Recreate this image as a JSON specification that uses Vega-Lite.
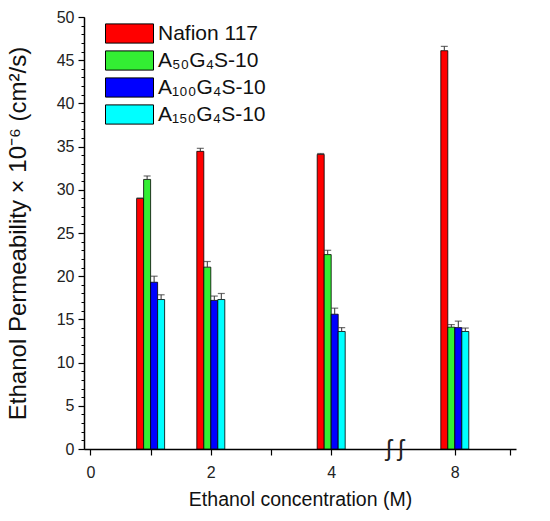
{
  "$schema": "https://vega.github.io/schema/vega-lite/v6.json",
  "width": 432,
  "height": 432,
  "autosize": "none",
  "padding": {"left": 84, "top": 17, "right": 34, "bottom": 72},
  "config": {
    "view": {"stroke": null},
    "font": "Liberation Sans",
    "axis": {
      "grid": false,
      "domainColor": "black",
      "domainWidth": 1.5,
      "tickColor": "black",
      "tickWidth": 1.2,
      "labelColor": "#222",
      "titleColor": "#111",
      "labelFont": "Liberation Sans",
      "titleFont": "Liberation Sans",
      "titleFontWeight": "normal"
    }
  },
  "data": {
    "values": [
      {"conc": 1, "membrane": "Nafion 117", "value": 29.0, "upper": 29.05},
      {"conc": 1, "membrane": "A₅₀G₄S-10", "value": 31.2, "upper": 31.6},
      {"conc": 1, "membrane": "A₁₀₀G₄S-10", "value": 19.3, "upper": 20.0},
      {"conc": 1, "membrane": "A₁₅₀G₄S-10", "value": 17.3, "upper": 17.85},
      {"conc": 2, "membrane": "Nafion 117", "value": 34.45, "upper": 34.8},
      {"conc": 2, "membrane": "A₅₀G₄S-10", "value": 21.05, "upper": 21.7},
      {"conc": 2, "membrane": "A₁₀₀G₄S-10", "value": 17.2, "upper": 17.7},
      {"conc": 2, "membrane": "A₁₅₀G₄S-10", "value": 17.3, "upper": 18.0},
      {"conc": 4, "membrane": "Nafion 117", "value": 34.1, "upper": 34.2},
      {"conc": 4, "membrane": "A₅₀G₄S-10", "value": 22.5, "upper": 23.0},
      {"conc": 4, "membrane": "A₁₀₀G₄S-10", "value": 15.6, "upper": 16.3},
      {"conc": 4, "membrane": "A₁₅₀G₄S-10", "value": 13.6, "upper": 14.05},
      {"conc": 8, "membrane": "Nafion 117", "value": 46.1, "upper": 46.6},
      {"conc": 8, "membrane": "A₅₀G₄S-10", "value": 14.1, "upper": 14.4},
      {"conc": 8, "membrane": "A₁₀₀G₄S-10", "value": 14.05, "upper": 14.8},
      {"conc": 8, "membrane": "A₁₅₀G₄S-10", "value": 13.6, "upper": 14.0}
    ]
  },
  "encoding": {
    "x": {
      "field": "conc",
      "type": "quantitative",
      "title": "Ethanol concentration (M)",
      "scale": {"domain": [0, 4, 8, 9], "range": [0, 247.2, 370.8, 432], "nice": false, "zero": false},
      "axis": {
        "values": [0, 1, 2, 3, 4, 8, 9],
        "labelExpr": "datum.value == 1 || datum.value == 3 || datum.value == 9 ? '' : datum.label",
        "tickSize": 6,
        "labelFontSize": 16,
        "labelPadding": 9,
        "titleFontSize": 19.5,
        "titlePadding": 10
      }
    }
  },
  "layer": [
    {
      "transform": [{"filter": "datum.membrane == 'Nafion 117'"}],
      "mark": {"type": "bar", "width": 7, "xOffset": -10.5, "stroke": "black", "strokeWidth": 0.8},
      "encoding": {
        "y": {
          "field": "value",
          "type": "quantitative",
          "title": "Ethanol Permeability × 10⁻⁶ (cm²/s)",
          "scale": {"domain": [0, 50], "nice": false},
          "axis": {
            "values": [0, 5, 10, 15, 20, 25, 30, 35, 40, 45, 50],
            "tickSize": 6,
            "labelFontSize": 16,
            "labelPadding": 4,
            "titleFontSize": 24,
            "titlePadding": 26
          }
        },
        "color": {
          "field": "membrane",
          "type": "nominal",
          "scale": {
            "domain": ["Nafion 117", "A₅₀G₄S-10", "A₁₀₀G₄S-10", "A₁₅₀G₄S-10"],
            "range": ["#ff0000", "#33ee33", "#0000ff", "#00ffff"]
          },
          "legend": {
            "orient": "none",
            "legendX": 35,
            "legendY": 6,
            "title": null,
            "labelFontSize": 21,
            "labelColor": "#111",
            "labelOffset": 18,
            "symbolType": "M-3,-1.2H3V1.2H-3Z",
            "symbolSize": 256,
            "symbolStrokeColor": "black",
            "symbolStrokeWidth": 1,
            "rowPadding": 2
          }
        }
      }
    },
    {
      "transform": [{"filter": "datum.membrane == 'A₅₀G₄S-10'"}],
      "mark": {"type": "bar", "width": 7, "xOffset": -3.5, "stroke": "black", "strokeWidth": 0.8},
      "encoding": {
        "y": {"field": "value", "type": "quantitative", "axis": null},
        "color": {"field": "membrane", "type": "nominal"}
      }
    },
    {
      "transform": [{"filter": "datum.membrane == 'A₁₀₀G₄S-10'"}],
      "mark": {"type": "bar", "width": 7, "xOffset": 3.5, "stroke": "black", "strokeWidth": 0.8},
      "encoding": {
        "y": {"field": "value", "type": "quantitative", "axis": null},
        "color": {"field": "membrane", "type": "nominal"}
      }
    },
    {
      "transform": [{"filter": "datum.membrane == 'A₁₅₀G₄S-10'"}],
      "mark": {"type": "bar", "width": 7, "xOffset": 10.5, "stroke": "black", "strokeWidth": 0.8},
      "encoding": {
        "y": {"field": "value", "type": "quantitative", "axis": null},
        "color": {"field": "membrane", "type": "nominal"}
      }
    },
    {
      "transform": [{"filter": "datum.membrane == 'Nafion 117'"}],
      "mark": {"type": "rule", "xOffset": -10.5, "color": "#333", "strokeWidth": 1},
      "encoding": {"y": {"field": "value", "type": "quantitative", "axis": null}, "y2": {"field": "upper"}}
    },
    {
      "transform": [{"filter": "datum.membrane == 'A₅₀G₄S-10'"}],
      "mark": {"type": "rule", "xOffset": -3.5, "color": "#333", "strokeWidth": 1},
      "encoding": {"y": {"field": "value", "type": "quantitative", "axis": null}, "y2": {"field": "upper"}}
    },
    {
      "transform": [{"filter": "datum.membrane == 'A₁₀₀G₄S-10'"}],
      "mark": {"type": "rule", "xOffset": 3.5, "color": "#333", "strokeWidth": 1},
      "encoding": {"y": {"field": "value", "type": "quantitative", "axis": null}, "y2": {"field": "upper"}}
    },
    {
      "transform": [{"filter": "datum.membrane == 'A₁₅₀G₄S-10'"}],
      "mark": {"type": "rule", "xOffset": 10.5, "color": "#333", "strokeWidth": 1},
      "encoding": {"y": {"field": "value", "type": "quantitative", "axis": null}, "y2": {"field": "upper"}}
    },
    {
      "transform": [{"filter": "datum.membrane == 'Nafion 117'"}],
      "mark": {"type": "tick", "orient": "horizontal", "xOffset": -10.5, "size": 7, "thickness": 1.2, "color": "#333"},
      "encoding": {"y": {"field": "upper", "type": "quantitative", "axis": null}}
    },
    {
      "transform": [{"filter": "datum.membrane == 'A₅₀G₄S-10'"}],
      "mark": {"type": "tick", "orient": "horizontal", "xOffset": -3.5, "size": 7, "thickness": 1.2, "color": "#333"},
      "encoding": {"y": {"field": "upper", "type": "quantitative", "axis": null}}
    },
    {
      "transform": [{"filter": "datum.membrane == 'A₁₀₀G₄S-10'"}],
      "mark": {"type": "tick", "orient": "horizontal", "xOffset": 3.5, "size": 7, "thickness": 1.2, "color": "#333"},
      "encoding": {"y": {"field": "upper", "type": "quantitative", "axis": null}}
    },
    {
      "transform": [{"filter": "datum.membrane == 'A₁₅₀G₄S-10'"}],
      "mark": {"type": "tick", "orient": "horizontal", "xOffset": 10.5, "size": 7, "thickness": 1.2, "color": "#333"},
      "encoding": {"y": {"field": "upper", "type": "quantitative", "axis": null}}
    },
    {
      "transform": [{"filter": "datum.conc == 8 && datum.membrane == 'Nafion 117'"}],
      "mark": {"type": "text", "text": "ʃ ʃ", "font": "Liberation Sans", "fontSize": 24, "baseline": "middle", "align": "center", "color": "#222", "dx": 2},
      "encoding": {
        "x": {"datum": 6, "type": "quantitative"},
        "y": {
          "datum": 0,
          "type": "quantitative",
          "axis": {
            "orient": "left",
            "values": [0, 1, 2, 3, 4, 5, 6, 7, 8, 9, 10, 11, 12, 13, 14, 15, 16, 17, 18, 19, 20, 21, 22, 23, 24, 25, 26, 27, 28, 29, 30, 31, 32, 33, 34, 35, 36, 37, 38, 39, 40, 41, 42, 43, 44, 45, 46, 47, 48, 49, 50],
            "labels": false,
            "domain": false,
            "tickSize": 3,
            "tickWidth": 1,
            "title": null
          }
        }
      }
    }
  ],
  "resolve": {"axis": {"y": "independent"}}
}
